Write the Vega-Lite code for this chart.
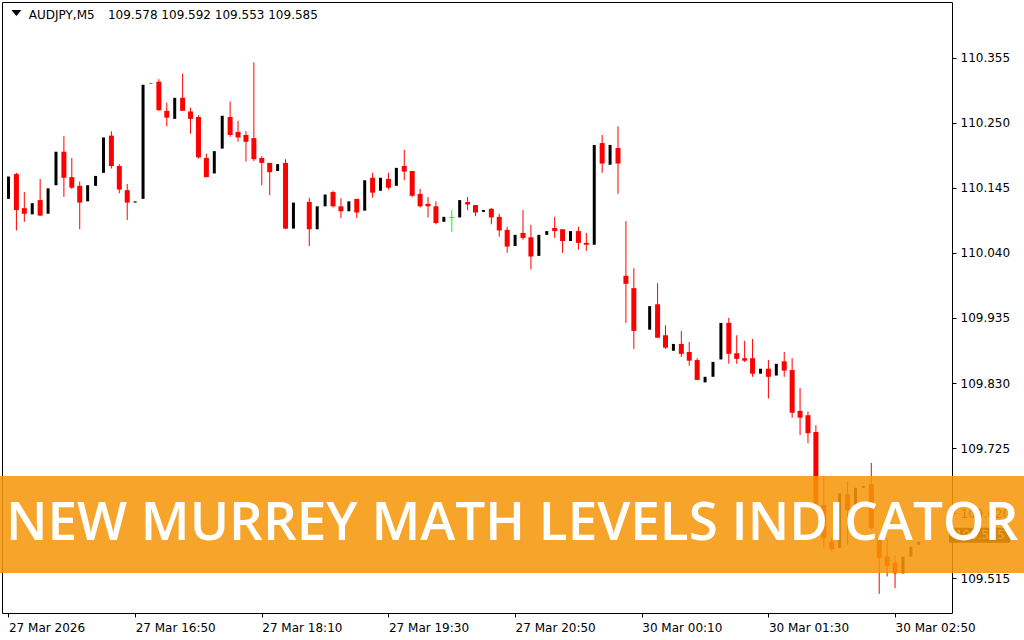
{
  "$schema": "https://vega.github.io/schema/vega-lite/v6.json",
  "width": 950,
  "height": 611,
  "autosize": {"type": "none"},
  "padding": {"left": 2, "top": 2, "right": 72, "bottom": 27},
  "background": "white",
  "config": {"view": {"stroke": "#000000", "strokeWidth": 1}, "font": "DejaVu Sans"},
  "datasets": {
    "candles": [
      {"k":0,"o":110.127,"h":110.163,"l":110.127,"c":110.163},
      {"k":1,"o":110.167,"h":110.169,"l":110.076,"c":110.109},
      {"k":2,"o":110.112,"h":110.138,"l":110.090,"c":110.103},
      {"k":3,"o":110.102,"h":110.120,"l":110.102,"c":110.120},
      {"k":4,"o":110.125,"h":110.159,"l":110.100,"c":110.100},
      {"k":5,"o":110.103,"h":110.144,"l":110.103,"c":110.144},
      {"k":6,"o":110.149,"h":110.203,"l":110.149,"c":110.203},
      {"k":7,"o":110.203,"h":110.228,"l":110.130,"c":110.161},
      {"k":8,"o":110.162,"h":110.193,"l":110.143,"c":110.145},
      {"k":9,"o":110.148,"h":110.155,"l":110.078,"c":110.121},
      {"k":10,"o":110.123,"h":110.149,"l":110.123,"c":110.149},
      {"k":11,"o":110.148,"h":110.164,"l":110.148,"c":110.164},
      {"k":12,"o":110.169,"h":110.226,"l":110.169,"c":110.226},
      {"k":13,"o":110.229,"h":110.236,"l":110.176,"c":110.180},
      {"k":14,"o":110.180,"h":110.183,"l":110.136,"c":110.142},
      {"k":15,"o":110.141,"h":110.151,"l":110.093,"c":110.121},
      {"k":16,"o":110.121,"h":110.123,"l":110.121,"c":110.123},
      {"k":17,"o":110.127,"h":110.311,"l":110.127,"c":110.311},
      {"k":18,"o":110.313,"h":110.314,"l":110.313,"c":110.314},
      {"k":19,"o":110.316,"h":110.320,"l":110.269,"c":110.270},
      {"k":20,"o":110.269,"h":110.282,"l":110.244,"c":110.258},
      {"k":21,"o":110.256,"h":110.290,"l":110.256,"c":110.290},
      {"k":22,"o":110.290,"h":110.329,"l":110.269,"c":110.269},
      {"k":23,"o":110.268,"h":110.274,"l":110.232,"c":110.256},
      {"k":24,"o":110.259,"h":110.262,"l":110.192,"c":110.194},
      {"k":25,"o":110.193,"h":110.200,"l":110.162,"c":110.162},
      {"k":26,"o":110.168,"h":110.204,"l":110.168,"c":110.204},
      {"k":27,"o":110.208,"h":110.261,"l":110.208,"c":110.261},
      {"k":28,"o":110.259,"h":110.284,"l":110.227,"c":110.230},
      {"k":29,"o":110.235,"h":110.253,"l":110.219,"c":110.226},
      {"k":30,"o":110.230,"h":110.236,"l":110.187,"c":110.219},
      {"k":31,"o":110.225,"h":110.347,"l":110.188,"c":110.191},
      {"k":32,"o":110.193,"h":110.196,"l":110.149,"c":110.185},
      {"k":33,"o":110.185,"h":110.185,"l":110.133,"c":110.170},
      {"k":34,"o":110.172,"h":110.183,"l":110.172,"c":110.183},
      {"k":35,"o":110.185,"h":110.191,"l":110.078,"c":110.079},
      {"k":36,"o":110.079,"h":110.121,"l":110.079,"c":110.121},
      {"k":38,"o":110.122,"h":110.129,"l":110.051,"c":110.078},
      {"k":39,"o":110.078,"h":110.115,"l":110.078,"c":110.115},
      {"k":40,"o":110.115,"h":110.134,"l":110.115,"c":110.134},
      {"k":41,"o":110.138,"h":110.140,"l":110.113,"c":110.115},
      {"k":42,"o":110.115,"h":110.128,"l":110.096,"c":110.107},
      {"k":43,"o":110.107,"h":110.123,"l":110.107,"c":110.123},
      {"k":44,"o":110.127,"h":110.127,"l":110.096,"c":110.105},
      {"k":45,"o":110.108,"h":110.157,"l":110.108,"c":110.157},
      {"k":46,"o":110.161,"h":110.169,"l":110.129,"c":110.137},
      {"k":47,"o":110.140,"h":110.161,"l":110.140,"c":110.161},
      {"k":48,"o":110.159,"h":110.169,"l":110.142,"c":110.145},
      {"k":49,"o":110.148,"h":110.177,"l":110.148,"c":110.177},
      {"k":50,"o":110.180,"h":110.206,"l":110.157,"c":110.171},
      {"k":51,"o":110.172,"h":110.172,"l":110.130,"c":110.132},
      {"k":52,"o":110.135,"h":110.143,"l":110.113,"c":110.115},
      {"k":53,"o":110.119,"h":110.130,"l":110.097,"c":110.115},
      {"k":54,"o":110.115,"h":110.123,"l":110.086,"c":110.088},
      {"k":55,"o":110.090,"h":110.098,"l":110.090,"c":110.098},
      {"k":56,"o":110.097,"h":110.109,"l":110.074,"c":110.097},
      {"k":57,"o":110.097,"h":110.125,"l":110.097,"c":110.125},
      {"k":58,"o":110.122,"h":110.130,"l":110.109,"c":110.118},
      {"k":59,"o":110.117,"h":110.117,"l":110.099,"c":110.105},
      {"k":60,"o":110.106,"h":110.109,"l":110.106,"c":110.109},
      {"k":61,"o":110.111,"h":110.112,"l":110.086,"c":110.097},
      {"k":62,"o":110.098,"h":110.103,"l":110.066,"c":110.076},
      {"k":63,"o":110.077,"h":110.082,"l":110.040,"c":110.050},
      {"k":64,"o":110.051,"h":110.069,"l":110.051,"c":110.069},
      {"k":65,"o":110.072,"h":110.109,"l":110.061,"c":110.064},
      {"k":66,"o":110.065,"h":110.085,"l":110.013,"c":110.034},
      {"k":67,"o":110.035,"h":110.069,"l":110.035,"c":110.069},
      {"k":68,"o":110.069,"h":110.075,"l":110.069,"c":110.075},
      {"k":69,"o":110.080,"h":110.098,"l":110.064,"c":110.075},
      {"k":70,"o":110.078,"h":110.078,"l":110.040,"c":110.059},
      {"k":71,"o":110.059,"h":110.075,"l":110.059,"c":110.075},
      {"k":72,"o":110.075,"h":110.082,"l":110.045,"c":110.056},
      {"k":73,"o":110.056,"h":110.072,"l":110.043,"c":110.053},
      {"k":74,"o":110.053,"h":110.214,"l":110.053,"c":110.214},
      {"k":75,"o":110.217,"h":110.230,"l":110.169,"c":110.184},
      {"k":76,"o":110.182,"h":110.214,"l":110.182,"c":110.214},
      {"k":77,"o":110.209,"h":110.244,"l":110.135,"c":110.184},
      {"k":78,"o":110.003,"h":110.091,"l":109.927,"c":109.990},
      {"k":79,"o":109.983,"h":110.015,"l":109.885,"c":109.914},
      {"k":81,"o":109.916,"h":109.954,"l":109.916,"c":109.954},
      {"k":82,"o":109.957,"h":109.991,"l":109.903,"c":109.903},
      {"k":83,"o":109.907,"h":109.923,"l":109.885,"c":109.887},
      {"k":84,"o":109.882,"h":109.893,"l":109.882,"c":109.893},
      {"k":85,"o":109.893,"h":109.914,"l":109.872,"c":109.877},
      {"k":86,"o":109.880,"h":109.896,"l":109.858,"c":109.866},
      {"k":87,"o":109.867,"h":109.870,"l":109.835,"c":109.835},
      {"k":88,"o":109.831,"h":109.840,"l":109.831,"c":109.840},
      {"k":89,"o":109.840,"h":109.864,"l":109.840,"c":109.864},
      {"k":90,"o":109.868,"h":109.927,"l":109.868,"c":109.927},
      {"k":91,"o":109.927,"h":109.935,"l":109.861,"c":109.877},
      {"k":92,"o":109.878,"h":109.907,"l":109.861,"c":109.869},
      {"k":93,"o":109.870,"h":109.898,"l":109.864,"c":109.866},
      {"k":94,"o":109.870,"h":109.901,"l":109.840,"c":109.845},
      {"k":95,"o":109.845,"h":109.853,"l":109.845,"c":109.853},
      {"k":96,"o":109.853,"h":109.867,"l":109.805,"c":109.840},
      {"k":97,"o":109.842,"h":109.861,"l":109.842,"c":109.861},
      {"k":98,"o":109.865,"h":109.880,"l":109.840,"c":109.850},
      {"k":99,"o":109.851,"h":109.870,"l":109.774,"c":109.782},
      {"k":100,"o":109.785,"h":109.822,"l":109.746,"c":109.774},
      {"k":101,"o":109.778,"h":109.784,"l":109.733,"c":109.749},
      {"k":102,"o":109.751,"h":109.762,"l":109.633,"c":109.633},
      {"k":103,"o":109.633,"h":109.680,"l":109.565,"c":109.580},
      {"k":104,"o":109.574,"h":109.581,"l":109.558,"c":109.562},
      {"k":105,"o":109.564,"h":109.652,"l":109.564,"c":109.652},
      {"k":106,"o":109.651,"h":109.672,"l":109.569,"c":109.625},
      {"k":107,"o":109.625,"h":109.661,"l":109.625,"c":109.661},
      {"k":108,"o":109.661,"h":109.664,"l":109.661,"c":109.664},
      {"k":109,"o":109.667,"h":109.701,"l":109.593,"c":109.596},
      {"k":110,"o":109.580,"h":109.580,"l":109.490,"c":109.548},
      {"k":111,"o":109.550,"h":109.580,"l":109.518,"c":109.535},
      {"k":112,"o":109.540,"h":109.552,"l":109.499,"c":109.523},
      {"k":113,"o":109.523,"h":109.550,"l":109.523,"c":109.550},
      {"k":114,"o":109.550,"h":109.566,"l":109.550,"c":109.566},
      {"k":115,"o":109.569,"h":109.574,"l":109.569,"c":109.574},
      {"k":116,"o":109.578,"h":109.592,"l":109.553,"c":109.585}
    ]
  },
  "layer": [
    {
      "data": {"name": "candles"},
      "transform": [{"filter": "datum.c <= datum.o"}],
      "mark": {"type": "rule", "strokeWidth": 1},
      "encoding": {
        "x": {"field": "k", "type": "quantitative", "scale": {"domain": [-0.1875, 118.5625], "nice": false, "zero": false},
          "axis": {"values": [0,16,32,48,64,80,96,112], "labelExpr": "['27 Mar 2026','27 Mar 16:50','27 Mar 18:10','27 Mar 19:30','27 Mar 20:50','30 Mar 00:10','30 Mar 01:30','30 Mar 02:50'][round(datum.value/16)]",
            "title": null, "grid": false, "domain": false, "tickSize": 4, "tickColor": "#000000", "labelAlign": "left", "labelBaseline": "alphabetic", "labelPadding": 14, "labelFlush": false, "labelOverlap": false, "labelFont": "DejaVu Sans", "labelFontSize": 12, "labelColor": "#000000"}},
        "y": {"field": "l", "type": "quantitative", "scale": {"domain": [109.45903, 110.44452], "nice": false, "zero": false},
          "axis": {"orient": "right", "values": [110.355,110.25,110.145,110.04,109.935,109.83,109.725,109.62,109.515], "format": ".3f", "title": null, "grid": false, "domain": false, "tickSize": 4, "tickColor": "#000000", "labelPadding": 4, "labelFont": "DejaVu Sans", "labelFontSize": 12, "labelColor": "#000000", "labelOverlap": false}},
        "y2": {"field": "h"},
        "color": {"condition": {"test": "datum.c == datum.o", "value": "#00ff00"}, "value": "#ff0000"}
      }
    },
    {
      "data": {"name": "candles"},
      "transform": [{"filter": "datum.c < datum.o"}],
      "mark": {"type": "bar", "width": 5, "color": "#ff0000"},
      "encoding": {
        "x": {"field": "k", "type": "quantitative", "scale": {"domain": [-0.1875, 118.5625], "nice": false, "zero": false}},
        "y": {"field": "o", "type": "quantitative", "scale": {"domain": [109.45903, 110.44452], "nice": false, "zero": false}},
        "y2": {"field": "c"}
      }
    },
    {
      "data": {"name": "candles"},
      "transform": [{"filter": "datum.c > datum.o"}],
      "mark": {"type": "bar", "width": 3, "color": "#000000"},
      "encoding": {
        "x": {"field": "k", "type": "quantitative", "scale": {"domain": [-0.1875, 118.5625], "nice": false, "zero": false}},
        "y": {"field": "o", "type": "quantitative", "scale": {"domain": [109.45903, 110.44452], "nice": false, "zero": false}},
        "y2": {"field": "c"}
      }
    },
    {
      "data": {"name": "candles"},
      "transform": [{"filter": "datum.c == datum.o"}],
      "mark": {"type": "tick", "orient": "horizontal", "size": 5, "thickness": 1, "color": "#00ff00", "opacity": 1},
      "encoding": {
        "x": {"field": "k", "type": "quantitative", "scale": {"domain": [-0.1875, 118.5625], "nice": false, "zero": false}},
        "y": {"field": "o", "type": "quantitative", "scale": {"domain": [109.45903, 110.44452], "nice": false, "zero": false}}
      }
    },
    {
      "data": {"values": [{"k1": 118.81, "k2": 126.56, "p1": 109.5965, "p2": 109.5723}]},
      "mark": {"type": "rect", "color": "#000000", "clip": false},
      "encoding": {
        "x": {"field": "k1", "type": "quantitative", "scale": {"domain": [-0.1875, 118.5625], "nice": false, "zero": false}},
        "x2": {"field": "k2"},
        "y": {"field": "p1", "type": "quantitative", "scale": {"domain": [109.45903, 110.44452], "nice": false, "zero": false}},
        "y2": {"field": "p2"}
      }
    },
    {
      "data": {"values": [{"k": 119.56, "p": 109.585, "label": "109.585"}]},
      "mark": {"type": "text", "align": "left", "baseline": "middle", "font": "DejaVu Sans", "fontSize": 12, "color": "#ffffff", "clip": false},
      "encoding": {
        "x": {"field": "k", "type": "quantitative", "scale": {"domain": [-0.1875, 118.5625], "nice": false, "zero": false}},
        "y": {"field": "p", "type": "quantitative", "scale": {"domain": [109.45903, 110.44452], "nice": false, "zero": false}},
        "text": {"field": "label"}
      }
    },
    {
      "data": {"values": [{"k": 1.0, "p": 110.4267}]},
      "mark": {"type": "point", "shape": "M-1,-0.6L1,-0.6L0,0.6Z", "size": 100, "filled": true, "color": "#000000", "opacity": 1, "strokeWidth": 0},
      "encoding": {
        "x": {"field": "k", "type": "quantitative", "scale": {"domain": [-0.1875, 118.5625], "nice": false, "zero": false}},
        "y": {"field": "p", "type": "quantitative", "scale": {"domain": [109.45903, 110.44452], "nice": false, "zero": false}}
      }
    },
    {
      "data": {"values": [{"k": 2.5625, "p": 110.4179, "label": "AUDJPY,M5"}, {"k": 12.5625, "p": 110.4179, "label": "109.578 109.592 109.553 109.585"}]},
      "mark": {"type": "text", "align": "left", "baseline": "alphabetic", "font": "DejaVu Sans", "fontSize": 12, "color": "#000000"},
      "encoding": {
        "x": {"field": "k", "type": "quantitative", "scale": {"domain": [-0.1875, 118.5625], "nice": false, "zero": false}},
        "y": {"field": "p", "type": "quantitative", "scale": {"domain": [109.45903, 110.44452], "nice": false, "zero": false}},
        "text": {"field": "label"}
      }
    },
    {
      "data": {"values": [{"k1": -2, "k2": 130, "p1": 109.6799, "p2": 109.5235}]},
      "mark": {"type": "rect", "color": "#f5980a", "opacity": 0.87, "clip": false},
      "encoding": {
        "x": {"field": "k1", "type": "quantitative", "scale": {"domain": [-0.1875, 118.5625], "nice": false, "zero": false}},
        "x2": {"field": "k2"},
        "y": {"field": "p1", "type": "quantitative", "scale": {"domain": [109.45903, 110.44452], "nice": false, "zero": false}},
        "y2": {"field": "p2"}
      }
    },
    {
      "data": {"values": [{"k": 63.625, "p": 109.5767, "label": "NEW MURREY MATH LEVELS INDICATOR"}]},
      "mark": {"type": "text", "align": "center", "baseline": "alphabetic", "font": "Open Sans", "fontWeight": 600, "fontSize": 53, "color": "#ffffff", "clip": false},
      "encoding": {
        "x": {"field": "k", "type": "quantitative", "scale": {"domain": [-0.1875, 118.5625], "nice": false, "zero": false}},
        "y": {"field": "p", "type": "quantitative", "scale": {"domain": [109.45903, 110.44452], "nice": false, "zero": false}},
        "text": {"field": "label"}
      }
    }
  ]
}
